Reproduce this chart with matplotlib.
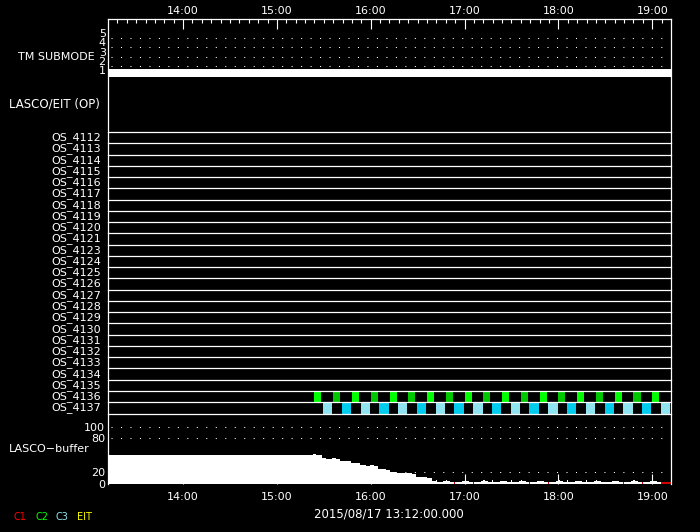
import matplotlib
matplotlib.use("Agg")
import matplotlib.pyplot as plt
import numpy as np

plt.rcParams["font.family"] = ["DejaVu Sans"]
plt.rcParams["font.size"] = 8

# ---------------- data ----------------
START_LABEL = "2015/08/17 13:12:00.000"
T0, T1 = 13.2, 19.2                      # hours of day shown
hour_ticks = [14, 15, 16, 17, 18, 19]
hour_labels = ["14:00", "15:00", "16:00", "17:00", "18:00", "19:00"]

# TM submode (minutes after 13:12, value)
sm_min = [0, 360]
sm_val = [1, 1]
sm_ticks = [1, 2, 3, 4, 5]

# LASCO/EIT observing-program rows
os_rows = ["OS_4112", "OS_4113", "OS_4114", "OS_4115", "OS_4116", "OS_4117",
           "OS_4118", "OS_4119", "OS_4120", "OS_4121", "OS_4123", "OS_4124",
           "OS_4125", "OS_4126", "OS_4127", "OS_4128", "OS_4129", "OS_4130",
           "OS_4131", "OS_4132", "OS_4133", "OS_4134", "OS_4135", "OS_4136",
           "OS_4137"]

# image start times (minutes after 13:12) and exposure durations (min)
c2_a_start = [132, 156, 180, 204, 228, 252, 276, 300, 324, 348]
c2_b_start = [144, 168, 192, 216, 240, 264, 288, 312, 336]
c2_dur = 4.5
c3_a_start = [137.5, 161.5, 185.5, 209.5, 233.5, 257.5, 281.5, 305.5, 329.5, 353.5]
c3_b_start = [149.5, 173.5, 197.5, 221.5, 245.5, 269.5, 293.5, 317.5, 341.5]
c3_dur = 6.0

# LASCO buffer fill level (minutes after 13:12, percent)
buf_min = [0, 131, 133, 135, 137, 139.5, 143, 146, 148.5, 151.5, 155.5, 158.5,
           161, 165, 167.5, 170, 172.5, 178, 180.5, 184, 188.5, 192, 194.5,
           197, 201, 204, 207,
           209.5, 209.8, 210.1, 214.5, 216, 217, 219, 220.5,
           221.5, 221.8, 222.1, 226.5, 228, 229, 231, 232.5,
           233.5, 233.8, 234.1, 238.5, 240, 241, 243, 244.5,
           245.5, 245.8, 246.1, 250.5, 252, 253, 255, 256.5,
           257.5, 257.8, 258.1, 262.5, 264, 265, 267, 268.5,
           269.5, 269.8, 270.1, 274.5, 276, 277, 279, 280.5,
           281.5, 281.8, 282.1, 286.5, 288, 289, 291, 292.5,
           293.5, 293.8, 294.1, 298.5, 300, 301, 303, 304.5,
           305.5, 305.8, 306.1, 310.5, 312, 313, 315, 316.5,
           317.5, 317.8, 318.1, 322.5, 324, 325, 327, 328.5,
           329.5, 329.8, 330.1, 334.5, 336, 337, 339, 340.5,
           341.5, 341.8, 342.1, 346.5, 348, 349, 351, 352.5,
           353.5, 360]
buf_val = [50, 52, 51, 50, 45, 44, 45, 44, 40, 39, 37, 36,
           33, 31, 32, 31, 25, 24, 21, 19, 18, 19, 16,
           11, 11, 9, 5,
           0, 7, 3, 4, 6, 4, 3, 2,
           0, 7, 3, 4, 5, 4, 3, 2,
           0, 7, 3, 4, 6, 4, 3, 2,
           0, 7, 3, 4, 5, 4, 3, 2,
           0, 7, 3, 4, 6, 4, 3, 2,
           0, 7, 3, 4, 5, 4, 3, 2,
           0, 7, 3, 4, 6, 4, 3, 2,
           0, 7, 3, 4, 5, 4, 3, 2,
           0, 7, 3, 4, 6, 4, 3, 2,
           0, 7, 3, 4, 5, 4, 3, 2,
           0, 7, 3, 4, 6, 4, 3, 2,
           0, 7, 3, 4, 5, 4, 3, 2,
           0, 0]
buf_ticks = [0, 20, 80, 100]

legend_items = ["C1", "C2", "C3", "EIT"]
legend_colors = ["#ff0000", "#00ff00", "#90e4f0", "#ffff00"]


def hrs(m):
    return T0 + np.asarray(m, dtype=float) / 60.0


# ---------------- layout ----------------
W_PX, H_PX = 700, 532
fig = plt.figure(figsize=(7.0, 5.32), dpi=100, facecolor="black")


def rect(top, bottom, left=108, right=671):
    return [left / W_PX, 1 - bottom / H_PX, (right - left) / W_PX, (bottom - top) / H_PX]


dot = dict(color="white", lw=0.75, linestyle=(0, (1.0, 8.1)))

# frame with time axes (drawn on top, transparent)
fr = fig.add_axes(rect(19, 484))
fr.patch.set_visible(False)
fr.set_zorder(5)
fr.set_xlim(T0, T1)
fr.set_ylim(0, 1)
fr.set_yticks([])
for s in ["top", "left", "right"]:
    fr.spines[s].set_color("white")
    fr.spines[s].set_linewidth(0.9)
fr.spines["bottom"].set_visible(False)
fr.set_xticks(hour_ticks)
fr.set_xticklabels(hour_labels)
fr.set_xticks(np.arange(13.3, 19.2, 0.1), minor=True)
fr.xaxis.set_ticks_position("both")
fr.tick_params(axis="x", which="both", direction="in", colors="white",
               top=True, bottom=True, labeltop=False, labelbottom=True,
               labelsize=8)
fr.tick_params(axis="x", which="major", length=7.2, width=0.8, pad=6)
fr.tick_params(axis="x", which="minor", length=3.2, width=0.8, bottom=False)
for h, lab in zip(hour_ticks, hour_labels):
    fr.annotate(lab, (h, 1), xycoords=("data", "axes fraction"),
                xytext=(0, 2.5), textcoords="offset points",
                ha="center", va="bottom", color="white", fontsize=8,
                annotation_clip=False)

# TM submode panel
smax = fig.add_axes(rect(19, 84.7))
smax.set_facecolor("none")
smax.axis("off")
smax.set_xlim(T0, T1)
smax.set_ylim(0, (84.7 - 19) / 9.33)
for v in sm_ticks[1:]:
    smax.axhline(v, xmin=0.006, xmax=0.995, **dot)
smax.fill_between(hrs(sm_min), np.array(sm_val) - 0.2, np.array(sm_val) + 0.65,
                  step="post", color="white", lw=0)
for v in sm_ticks:
    smax.text(-0.004, v + 0.45, str(v), transform=smax.get_yaxis_transform(),
              ha="right", va="center", color="white", fontsize=8)
smax.text(-0.024, 3.0, "TM SUBMODE", transform=smax.get_yaxis_transform(),
          ha="right", va="center", color="white", fontsize=8)

fig.text(100 / W_PX, 1 - 104 / H_PX, "LASCO/EIT (OP)", ha="right", va="center",
         color="white", fontsize=8.5)

# OS rows panel
osax = fig.add_axes(rect(132, 413.5))
osax.set_facecolor("none")
osax.axis("off")
osax.set_xlim(T0, T1)
n = len(os_rows)
osax.set_ylim(n, 0)
row_c2 = os_rows.index("OS_4136")
row_c3 = os_rows.index("OS_4137")
osax.bar(hrs(c2_a_start), height=1, width=c2_dur / 60, bottom=row_c2,
         align="edge", color="#00ff00", lw=0, zorder=2)
osax.bar(hrs(c2_b_start), height=1, width=c2_dur / 60, bottom=row_c2,
         align="edge", color="#00c800", lw=0, zorder=2)
osax.bar(hrs(c3_a_start), height=1, width=c3_dur / 60, bottom=row_c3,
         align="edge", color="#90e4f0", lw=0, zorder=2)
osax.bar(hrs(c3_b_start), height=1, width=c3_dur / 60, bottom=row_c3,
         align="edge", color="#00ccee", lw=0, zorder=2)
for i in range(n + 1):
    osax.axhline(i, color="white", lw=0.9, zorder=3, clip_on=False)
for i, name in enumerate(os_rows):
    osax.text(-0.0125, i + 0.5, name, transform=osax.get_yaxis_transform(),
              ha="right", va="center", color="white", fontsize=8)

# buffer panel
bax = fig.add_axes(rect(413.5, 483.5))
bax.set_facecolor("none")
bax.set_xlim(T0, T1)
bax.set_ylim(0, (483.5 - 413.5) / 0.565)
for s in bax.spines.values():
    s.set_visible(False)
bax.set_xticks([])
for v in buf_ticks[1:]:
    bax.axhline(v, xmin=0.006, xmax=0.995, zorder=1, **dot)
bx = hrs(buf_min)
by = np.array(buf_val, dtype=float)
bax.fill_between(bx, 0, by, step="post", color="white", lw=0, zorder=2)
# zero level marked in red
for i in range(len(by) - 1):
    if by[i] == 0:
        bax.plot([bx[i], bx[i + 1]], [0.9, 0.9], color="#ff0000", lw=1.2,
                 solid_capstyle="butt", zorder=3, clip_on=False)
bax.set_yticks(buf_ticks)
bax.set_yticklabels([str(v) for v in buf_ticks])
bax.tick_params(axis="y", length=0, pad=2, colors="white", labelsize=8)
fig.text(90 / W_PX, 1 - 449 / H_PX, "LASCO\u2212buffer", ha="right", va="center",
         color="white", fontsize=8)

# date label
fig.text(389 / W_PX, 1 - 514 / H_PX, START_LABEL, ha="center", va="center",
         color="white", fontsize=8.5)

# legend
leg_x = [14, 35, 56, 77]
for x, lab, col in zip(leg_x, legend_items, legend_colors):
    fig.text(x / W_PX, 1 - 517 / H_PX, lab, ha="left", va="center",
             color=col, fontsize=7)

fig.savefig("out.png", dpi=100, facecolor="black")
